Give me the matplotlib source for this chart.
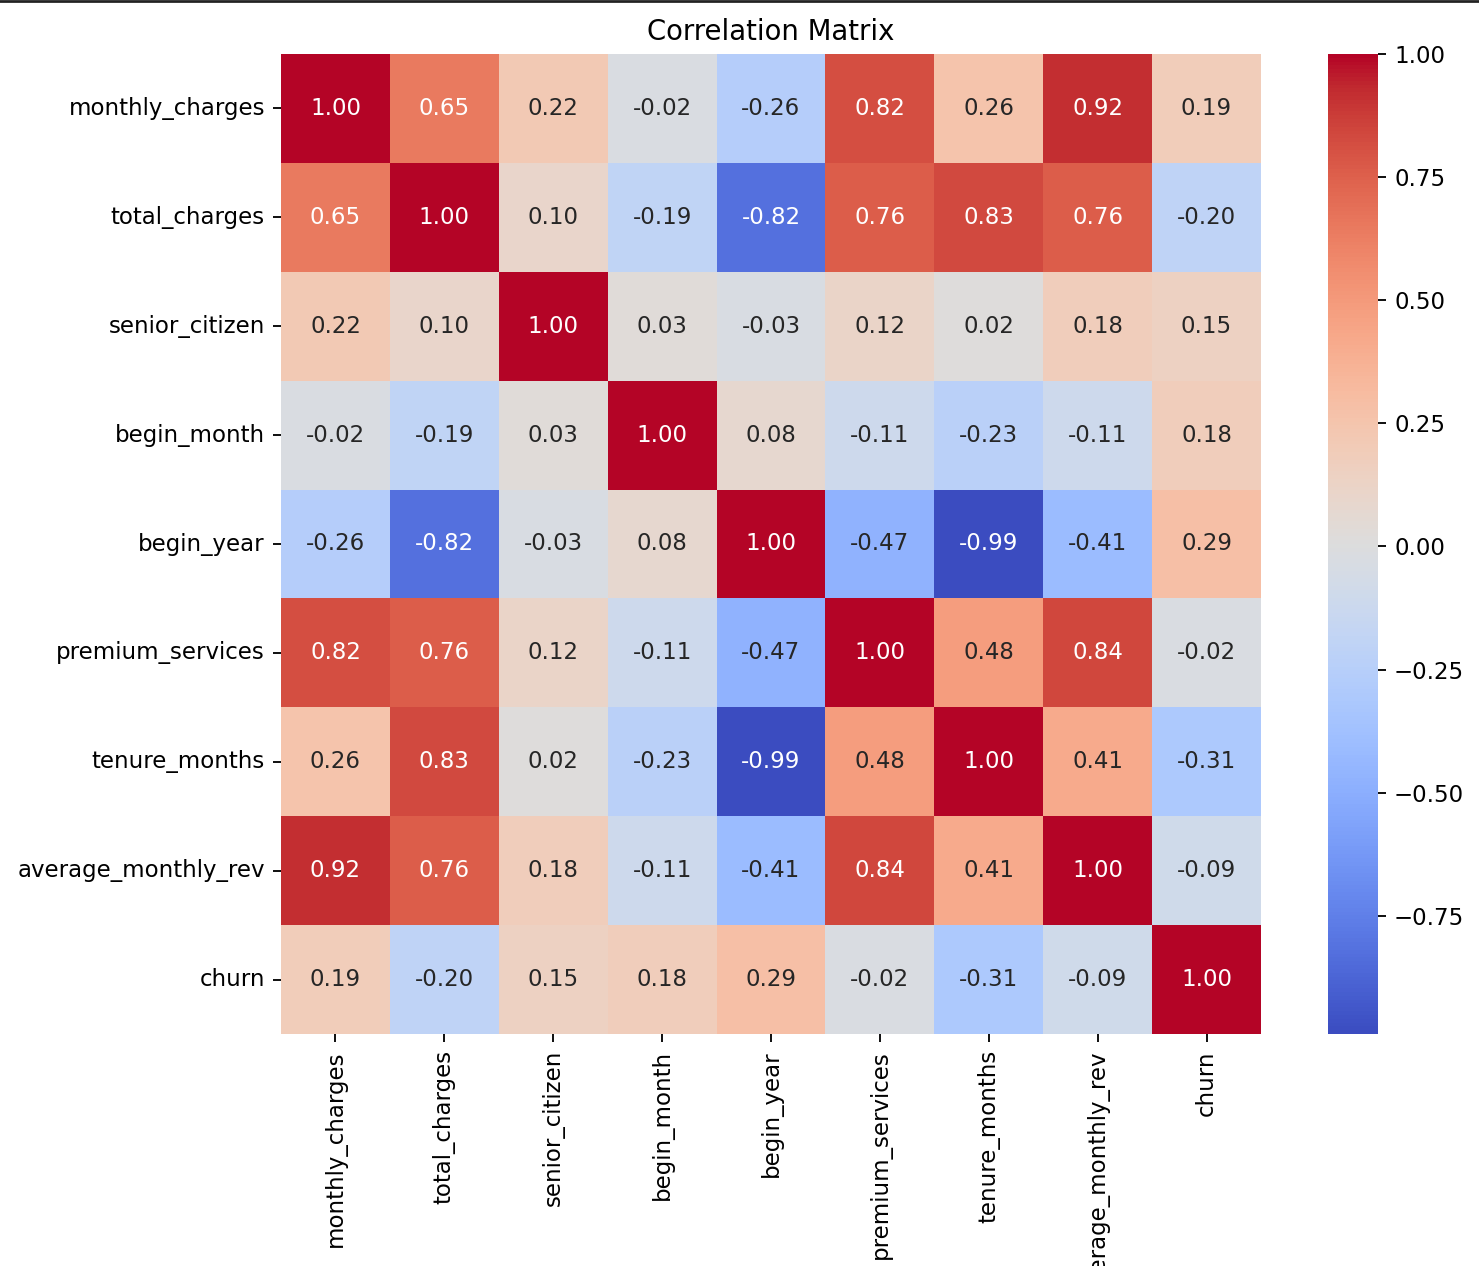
import numpy as np
import pandas as pd
import matplotlib
matplotlib.use("Agg")
import matplotlib.pyplot as plt
import seaborn as sns

cols = ["monthly_charges", "total_charges", "senior_citizen", "begin_month",
        "begin_year", "premium_services", "tenure_months",
        "average_monthly_rev", "churn"]

monthly_charges = [1.00, 0.65, 0.22, -0.02, -0.26, 0.82, 0.26, 0.92, 0.19]
total_charges = [0.65, 1.00, 0.10, -0.19, -0.82, 0.76, 0.83, 0.76, -0.20]
senior_citizen = [0.22, 0.10, 1.00, 0.03, -0.03, 0.12, 0.02, 0.18, 0.15]
begin_month = [-0.02, -0.19, 0.03, 1.00, 0.08, -0.11, -0.23, -0.11, 0.18]
begin_year = [-0.26, -0.82, -0.03, 0.08, 1.00, -0.47, -0.99, -0.41, 0.29]
premium_services = [0.82, 0.76, 0.12, -0.11, -0.47, 1.00, 0.48, 0.84, -0.02]
tenure_months = [0.26, 0.83, 0.02, -0.23, -0.99, 0.48, 1.00, 0.41, -0.31]
average_monthly_rev = [0.92, 0.76, 0.18, -0.11, -0.41, 0.84, 0.41, 1.00, -0.09]
churn = [0.19, -0.20, 0.15, 0.18, 0.29, -0.02, -0.31, -0.09, 1.00]

corr = pd.DataFrame([monthly_charges, total_charges, senior_citizen, begin_month,
                     begin_year, premium_services, tenure_months,
                     average_monthly_rev, churn], index=cols, columns=cols)

dpi = 165
W, H = 1480, 1266
fig = plt.figure(figsize=(W / dpi, H / dpi), dpi=dpi)
# pixel boxes
ax = fig.add_axes([281 / W, 1 - 1034 / H, 980 / W, 980 / H])
cax = fig.add_axes([1328 / W, 1 - 1034 / H, 50 / W, 980 / H])

sns.heatmap(corr, annot=True, fmt=".2f", cmap="coolwarm", ax=ax, cbar_ax=cax)
ax.set_title("Correlation Matrix")

# screenshot border at the top
fig.add_artist(plt.Line2D([0, 1], [1 - 1 / H, 1 - 1 / H], color="#222222", lw=1.2,
                          transform=fig.transFigure))

fig.savefig("out.png", dpi=dpi)
